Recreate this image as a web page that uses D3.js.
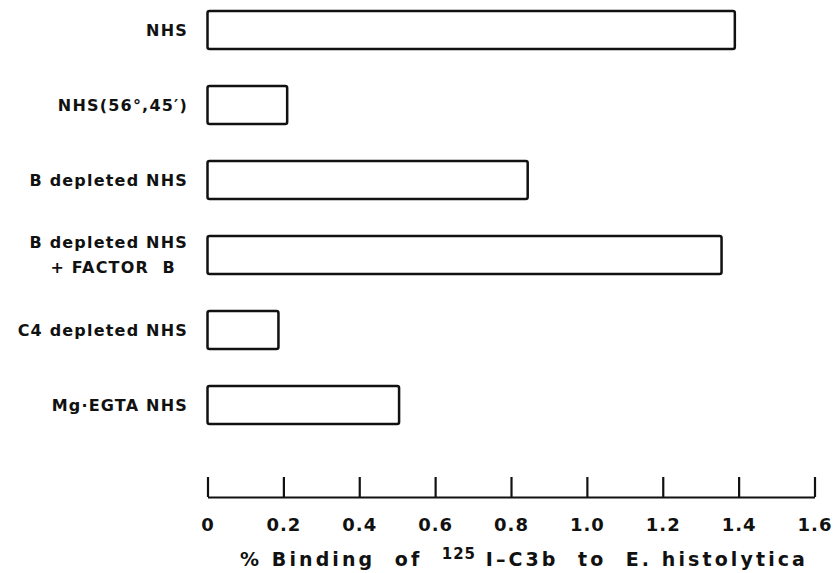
<!DOCTYPE html>
<html>
<head>
<meta charset="utf-8">
<script src="https://cdn.jsdelivr.net/npm/d3@7"></script>
<style>
  body { margin: 0; background: #fff; }
  text { font-family: "DejaVu Sans", sans-serif; fill: #111; }
</style>
</head>
<body>
<div class="canvas"></div>
<script>
// samples, top to bottom
var samples = ["NHS", "NHS(56°,45′)", "B depleted NHS", "B depleted NHS + FACTOR B", "C4 depleted NHS", "Mg·EGTA NHS"];
// % binding of 125I-C3b
var binding = [1.39, 0.21, 0.844, 1.355, 0.187, 0.505];
var tickValues = [0, 0.2, 0.4, 0.6, 0.8, 1.0, 1.2, 1.4, 1.6];
var tickLabels = ["0", "0.2", "0.4", "0.6", "0.8", "1.0", "1.2", "1.4", "1.6"];

var svg, x, y;

function init() {
    var width = 835,
        height = 573;
    svg = d3.select(".canvas").append("svg")
            .attr("width", width)
            .attr("height", height);

    x = d3.scaleLinear().domain([0, 1.6]).range([207.5, 814.5]);
    y = d3.scaleBand().domain(samples).range([11, 424])
          .paddingInner(0.493).paddingOuter(0);

    var rows = samples.map(function (s, i) { return {name: s, value: binding[i]}; });

    svg.selectAll(".bar")
       .data(rows)
       .enter().append("rect")
       .attr("class", "bar")
       .attr("x", x(0))
       .attr("y", function (d) { return y(d.name); })
       .attr("width", function (d) { return x(d.value) - x(0); })
       .attr("height", y.bandwidth())
       .attr("rx", 2)
       .style("fill", "none")
       .style("stroke", "#111")
       .style("stroke-width", 2.5);

    // category labels, the factor B one split on two lines
    rows.forEach(function (d) {
        var cy = y(d.name) + y.bandwidth() / 2;
        var t = svg.append("text")
           .attr("text-anchor", "end")
           .style("font-size", "16px")
           .style("font-weight", "bold")
           .style("letter-spacing", "1.2px")
           .style("white-space", "pre");
        if (d.name.indexOf(" + ") > 0) {
            var parts = d.name.split(" + ");
            t.append("tspan").attr("x", 188).attr("y", cy - 12.5).attr("dy", "0.36em").text(parts[0]);
            t.append("tspan").attr("x", 176).attr("y", cy + 12.5).attr("dy", "0.36em").text("+ FACTOR  B");
        } else {
            t.attr("x", 188).attr("y", cy).attr("dy", "0.36em").text(d.name);
        }
    });

    var axis = d3.axisBottom(x)
        .tickValues(tickValues)
        .tickFormat(function (d, i) { return tickLabels[i]; })
        .tickSizeInner(-20)
        .tickSizeOuter(0)
        .tickPadding(21);

    var g = svg.append("g")
       .attr("transform", "translate(0,497)")
       .call(axis);
    g.select(".domain").attr("stroke", "#111").attr("stroke-width", 2.2);
    g.selectAll(".tick line").attr("stroke", "#111").attr("stroke-width", 2.2);
    g.selectAll(".tick text")
     .attr("fill", "#111")
     .style("font-family", "DejaVu Sans, sans-serif")
     .style("font-size", "18px")
     .style("font-weight", "bold")
     .style("letter-spacing", "1px");

    var title = svg.append("text")
       .attr("x", 240)
       .attr("y", 566)
       .style("font-size", "19px")
       .style("font-weight", "bold")
       .style("letter-spacing", "3.1px")
       .style("white-space", "pre");
    title.append("tspan").text("% Binding  of  ");
    title.append("tspan").attr("dy", -7).style("font-size", "15px").style("letter-spacing", "1px").text("125");
    title.append("tspan").attr("dy", 7).text(" I–C3b  to  E. histolytica");
}

init();
</script>
</body>
</html>
